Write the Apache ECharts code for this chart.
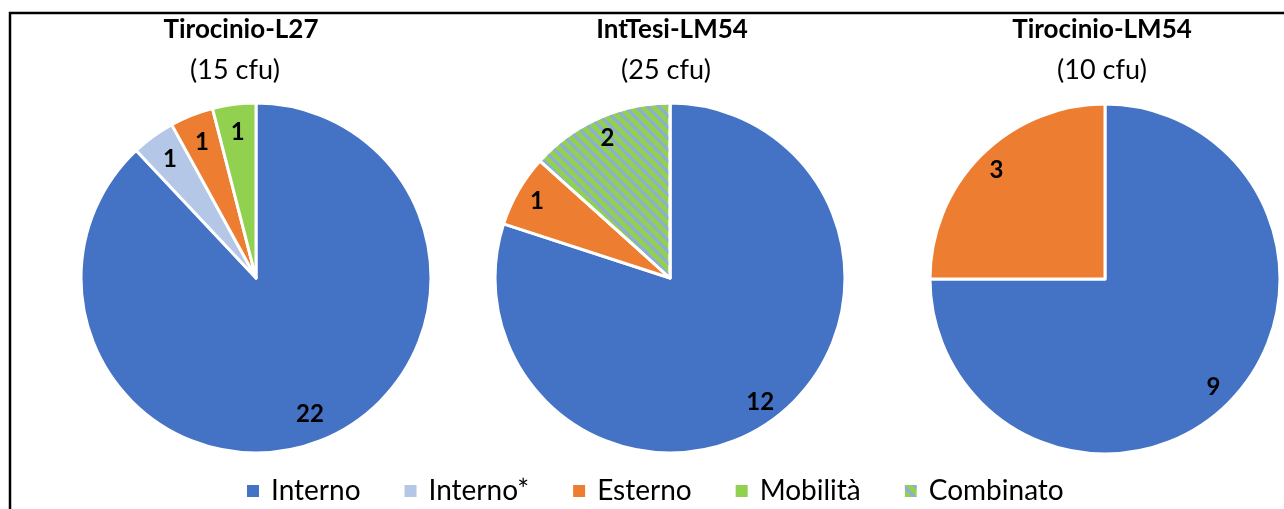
<!DOCTYPE html>
<html>
<head>
<meta charset="utf-8">
<script src="https://cdn.jsdelivr.net/npm/echarts@6/dist/echarts.min.js"></script>
<style>
html,body{margin:0;padding:0;background:#fff;}
#main{width:1284px;height:509px;}
</style>
</head>
<body>
<div id="main"></div>
<script>
// ---- data ----
const categories = ['Interno', 'Interno*', 'Esterno', 'Mobilità', 'Combinato'];
const chartTitles = ['Tirocinio-L27', 'IntTesi-LM54', 'Tirocinio-LM54'];
const chartSubtitles = ['(15 cfu)', '(25 cfu)', '(10 cfu)'];
const pie1Names = ['Interno', 'Interno*', 'Esterno', 'Mobilità'];
const pie1Values = [22, 1, 1, 1];
const pie2Names = ['Interno', 'Esterno', 'Combinato'];
const pie2Values = [12, 1, 2];
const pie3Names = ['Interno', 'Esterno'];
const pie3Values = [9, 3];

// ---- styles ----
const FONT = 'Lato, "Liberation Sans", sans-serif';
const colors = {
  'Interno': '#4472C4',
  'Interno*': '#B4C7E7',
  'Esterno': '#ED7D31',
  'Mobilità': '#92D050',
  'Combinato': '#92D050'
};
const stripeDecal = {
  symbol: 'rect',
  symbolSize: 1,
  color: '#8FAADC',
  dashArrayX: [1, 0],
  dashArrayY: [3, 5],
  rotation: Math.PI / 4
};
const centers = [[256, 278], [670, 278], [1105, 279]];
const R = 175;
const titleX = [241, 672, 1102];
const subX = [235, 666, 1102];
const labelMid = [0.82, 0.86, 0.86];

function makeData(names, values, transparent) {
  return names.map((n, i) => {
    const d = { name: n, value: values[i] };
    if (transparent) {
      d.itemStyle = { color: 'rgba(0,0,0,0)', borderWidth: 0 };
    } else {
      d.itemStyle = { color: colors[n] };
      if (n === 'Combinato') d.itemStyle.decal = stripeDecal;
    }
    return d;
  });
}

const pieNames = [pie1Names, pie2Names, pie3Names];
const pieValues = [pie1Values, pie2Values, pie3Values];

const series = [];
for (let k = 0; k < 3; k++) {
  series.push({
    type: 'pie',
    center: centers[k],
    radius: [0, R],
    startAngle: 90,
    clockwise: true,
    silent: true,
    label: { show: false },
    labelLine: { show: false },
    itemStyle: { borderColor: '#fff', borderWidth: 3 },
    data: makeData(pieNames[k], pieValues[k], false)
  });
}
for (let k = 0; k < 3; k++) {
  const m = labelMid[k];
  const inner = R * (2 * m - 1);
  series.push({
    type: 'pie',
    center: centers[k],
    radius: [inner, R],
    startAngle: 90,
    clockwise: true,
    silent: true,
    z: 5,
    label: {
      show: true,
      position: 'inside',
      formatter: '{c}',
      color: '#000',
      fontFamily: FONT,
      fontWeight: 'bold',
      fontSize: 24
    },
    labelLine: { show: false },
    data: makeData(pieNames[k], pieValues[k], true)
  });
}

const titles = [];
for (let k = 0; k < 3; k++) {
  titles.push({
    text: chartTitles[k],
    left: titleX[k],
    top: 16,
    textAlign: 'center',
    padding: 0,
    textStyle: { fontFamily: FONT, fontWeight: 'bold', fontSize: 26, color: '#000', lineHeight: 28 }
  });
  titles.push({
    text: chartSubtitles[k],
    left: subX[k],
    top: 56,
    textAlign: 'center',
    padding: 0,
    textStyle: { fontFamily: FONT, fontWeight: 'normal', fontSize: 27, color: '#000', lineHeight: 28 }
  });
}

const chart = echarts.init(document.getElementById('main'), null, { renderer: 'canvas' });
chart.setOption({
  backgroundColor: '#fff',
  animation: false,
  title: titles,
  legend: {
    data: categories,
    left: 245,
    top: 476,
    padding: 0,
    icon: 'rect',
    itemWidth: 14,
    itemHeight: 14,
    itemGap: 42,
    textStyle: { fontFamily: FONT, fontSize: 28, color: '#000', lineHeight: 30, padding: [0, 0, 0, 6] }
  },
  graphic: [{
    type: 'rect',
    silent: true,
    shape: { x: 10, y: 13, width: 1400, height: 600 },
    style: { fill: null, stroke: '#000', lineWidth: 2.5 }
  }],
  series: series
});
</script>
</body>
</html>
